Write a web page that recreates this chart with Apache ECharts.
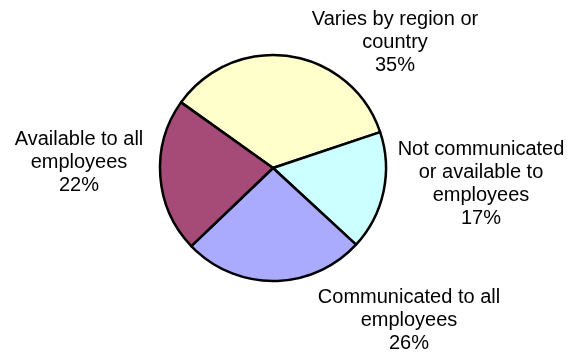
<!DOCTYPE html>
<html>
<head>
<meta charset="utf-8">
<script src="https://cdn.jsdelivr.net/npm/echarts@6/dist/echarts.min.js"></script>
<style>
html,body{margin:0;padding:0;background:#fff;}
#chart{width:572px;height:354px;}
</style>
</head>
<body>
<div id="chart"></div>
<script>
const categories = [
  'Varies by region or\ncountry',
  'Not communicated\nor available to\nemployees',
  'Communicated to all\nemployees',
  'Available to all\nemployees'
];
const values = [35, 17, 26, 22];
const colors = ['#FFFFCC', '#CCFFFF', '#AAAAFF', '#A64A78'];
const labelPos = [[395, 42], [481, 184], [409, 320], [79, 162]];

const chart = echarts.init(document.getElementById('chart'), null, {renderer: 'canvas'});
chart.setOption({
  backgroundColor: '#ffffff',
  animation: false,
  series: [{
    type: 'pie',
    center: [273, 168],
    radius: 113,
    startAngle: 144.5,
    clockwise: true,
    avoidLabelOverlap: false,
    data: categories.map((c, i) => ({name: c, value: values[i], itemStyle: {color: colors[i]}})),
    itemStyle: {borderColor: '#000', borderWidth: 2.5},
    label: {
      show: true,
      position: 'outside',
      formatter: p => p.name + '\n' + p.value + '%',
      color: '#000',
      fontFamily: 'Liberation Sans, Arial, sans-serif',
      fontSize: 20,
      lineHeight: 23,
      align: 'center'
    },
    labelLine: {show: false},
    labelLayout: p => ({
      x: labelPos[p.dataIndex][0],
      y: labelPos[p.dataIndex][1],
      align: 'center',
      verticalAlign: 'middle'
    }),
    emphasis: {disabled: true}
  }]
});
</script>
</body>
</html>
